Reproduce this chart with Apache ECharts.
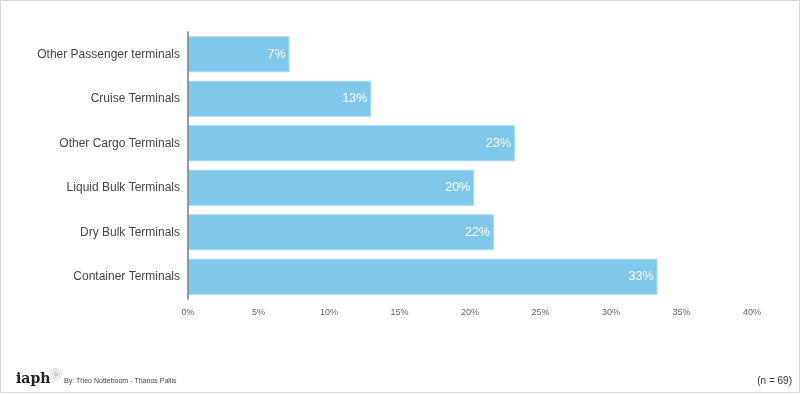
<!DOCTYPE html>
<html>
<head>
<meta charset="utf-8">
<script src="https://cdn.jsdelivr.net/npm/echarts@6/dist/echarts.min.js"></script>
<style>
html,body{margin:0;padding:0;background:#fff;}
#c{width:800px;height:394px;}
</style>
</head>
<body>
<div id="c"></div>
<script>
const categories = ["Container Terminals","Dry Bulk Terminals","Liquid Bulk Terminals","Other Cargo Terminals","Cruise Terminals","Other Passenger terminals"];
const values = [33.3, 21.7, 20.3, 23.2, 13.0, 7.2];
const xTicks = [0,5,10,15,20,25,30,35,40];
const footerLeft = "By: Theo Notteboom - Thanos Pallis";
const footerRight = "(n = 69)";
const logoText = "iaph";

const chart = echarts.init(document.getElementById('c'), null, {renderer:'canvas'});
const rays = [];
for (let i = 0; i < 12; i++) {
  const a = i * Math.PI / 6;
  rays.push({type:'line', shape:{x1:56+Math.cos(a)*3, y1:374+Math.sin(a)*3, x2:56+Math.cos(a)*6, y2:374+Math.sin(a)*6}, style:{stroke:'#c8c8c8', lineWidth:1}, silent:true});
}
chart.setOption({
  animation:false,
  backgroundColor:'#fff',
  grid:{left:188, right:48, top:32, bottom:95, containLabel:false},
  xAxis:{
    type:'value', min:0, max:40, interval:5,
    axisLine:{show:false}, axisTick:{show:false}, splitLine:{show:false},
    axisLabel:{formatter:v=>v+'%', color:'#666', fontSize:9, fontFamily:'Liberation Sans, Arial', margin:9}
  },
  yAxis:{
    type:'category', data:categories, z:5,
    axisLine:{show:true, lineStyle:{color:'#777', width:1.5}},
    axisTick:{show:false},
    axisLabel:{color:'#444', fontSize:12, fontFamily:'Liberation Sans, Arial', margin:8}
  },
  series:[{
    type:'bar', data:values, barCategoryGap:'19%',
    itemStyle:{color:'#7fc8ec', borderColor:'#a8daf3', borderWidth:1},
    label:{show:true, position:'insideRight', distance:4, formatter:p=>Math.round(p.value)+'%', color:'#fff', fontSize:12.5, fontFamily:'Liberation Sans, Arial'}
  }],
  graphic:[
    {type:'rect', shape:{x:0.5, y:0.5, width:799, height:392}, style:{fill:'none', stroke:'#d8d8d8', lineWidth:1}, silent:true},
    {type:'text', left:16, top:372, style:{text:logoText, font:'bold 14px "DejaVu Serif", serif', fill:'#222'}},
    {type:'circle', shape:{cx:56, cy:374, r:2.5}, style:{fill:'#d0d0d0'}, silent:true},
    ...rays,
    {type:'text', left:64, top:378, style:{text:footerLeft, font:'7px "Liberation Sans", Arial', fill:'#444'}},
    {type:'text', right:8, top:376, style:{text:footerRight, font:'10px "Liberation Sans", Arial', fill:'#333'}}
  ]
});
</script>
</body>
</html>
